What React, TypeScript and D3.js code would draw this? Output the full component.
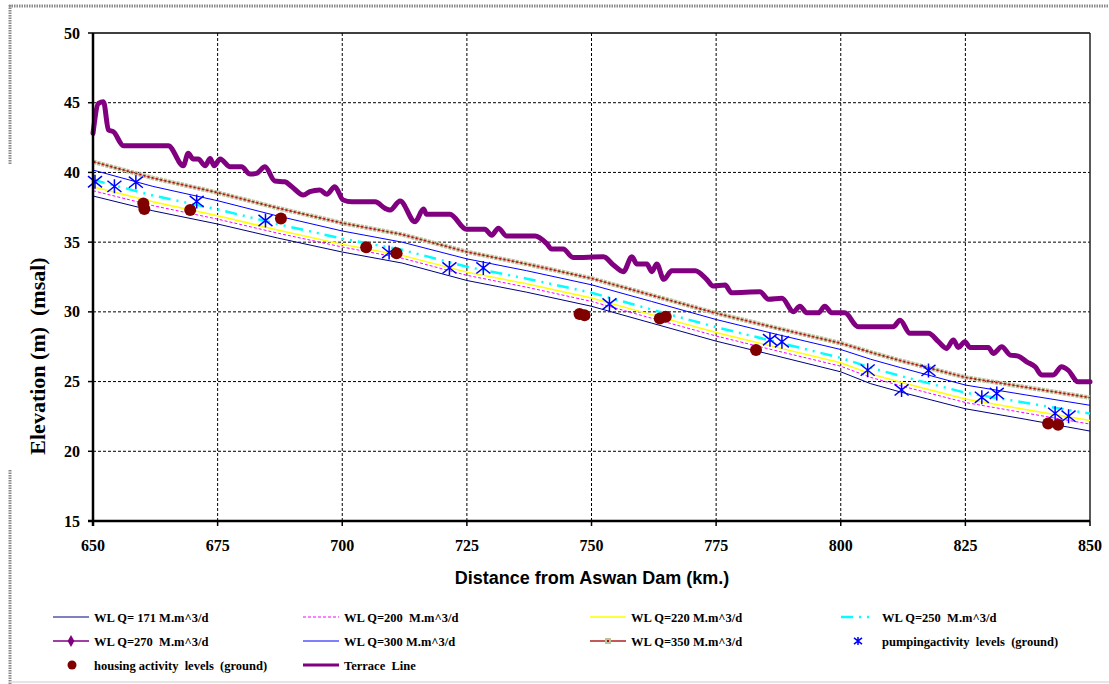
import React from "react";
import * as d3 from "d3";

// distances (km) where the water-level profiles were read
const km = [650, 662, 675, 687, 700, 712, 725, 737, 750, 762, 775, 787, 800, 806, 812, 825, 837, 850];

const wl171 = [38.31, 37.25, 36.3, 35.3, 34.29, 33.5, 32.25, 31.41, 30.4, 29.2, 27.9, 26.85, 25.7, 24.85, 24.25, 23.05, 22.3, 21.45];
const wl200 = [38.69, 37.62, 36.65, 35.65, 34.65, 33.85, 32.62, 31.77, 30.75, 29.55, 28.27, 27.22, 26.1, 25.3, 24.7, 23.5, 22.75, 21.95];
const wl220 = [38.97, 37.9, 36.9, 35.87, 34.84, 34.05, 32.85, 32.01, 31.0, 29.8, 28.52, 27.47, 26.35, 25.55, 24.95, 23.75, 23.0, 22.2];
const wl250 = [39.47, 38.35, 37.35, 36.3, 35.25, 34.45, 33.23, 32.38, 31.37, 30.17, 28.9, 27.85, 26.7, 26.0, 25.4, 24.2, 23.48, 22.7];
const wl300 = [40.17, 39.0, 37.97, 36.88, 35.8, 35.0, 33.8, 32.95, 31.94, 30.75, 29.45, 28.4, 27.3, 26.6, 26.0, 24.75, 24.05, 23.3];
const wl350 = [40.77, 39.6, 38.55, 37.45, 36.37, 35.55, 34.3, 33.43, 32.4, 31.2, 29.9, 28.85, 27.75, 27.1, 26.5, 25.3, 24.6, 23.85];

// [km, elevation]
const pumping = [
  [650.4, 39.33], [654.3, 39.0], [658.6, 39.3], [670.8, 37.92], [684.6, 36.55], [709.4, 34.25],
  [721.5, 33.15], [728.3, 33.15], [753.6, 30.56], [785.8, 28.0], [788.2, 27.85], [805.4, 25.82],
  [812.2, 24.4], [817.6, 25.8], [828.3, 23.87], [831.3, 24.15], [843, 22.72], [845.7, 22.52],
];

const housing = [
  [660.1, 37.78], [660.3, 37.37], [669.5, 37.3], [687.7, 36.7], [704.8, 34.63], [710.9, 34.2],
  [747.6, 29.84], [748.6, 29.75], [763.7, 29.53], [764.9, 29.65], [783.0, 27.26], [841.6, 22.0], [843.6, 21.9],
];

const terrace = [
  [650, 42.8], [651.1, 44.96], [652.1, 45.07], [653.1, 43.04], [654.1, 42.92], [656.1, 41.92], [665.1, 41.92],
  [668.1, 40.48], [669.1, 41.37], [670.1, 40.96], [671.1, 40.96], [672.5, 40.48], [673.5, 41.0], [674.3, 40.48],
  [675.5, 40.96], [677.5, 40.4], [679.8, 40.4], [681.5, 39.88], [682.8, 39.93], [684.5, 40.4], [686.5, 39.38],
  [688.5, 39.33], [689.9, 38.97], [692.2, 38.38], [693.5, 38.62], [695.5, 38.74], [696.9, 38.43], [698.5, 38.97],
  [700.2, 38.02], [701.9, 37.9], [706.6, 37.9], [708.6, 37.42], [709.6, 37.3], [711.6, 37.95], [714.6, 36.46],
  [716.3, 37.37], [716.9, 37.0], [721.6, 37.0], [724.9, 35.92], [728.6, 35.92], [730.0, 35.5], [731.3, 36.0],
  [733.0, 35.44], [738.7, 35.44], [741.0, 34.9], [742.0, 34.5], [744.3, 34.5], [746.3, 33.9], [752.4, 33.95],
  [754.4, 33.36], [756.4, 32.88], [758.1, 33.95], [759.1, 33.43], [761.1, 33.43], [762.1, 32.88], [763.1, 33.43],
  [764.5, 32.33], [766.1, 32.95], [770.8, 32.95], [773.1, 32.33], [774.4, 31.85], [776.8, 31.92], [778.1, 31.37],
  [783.8, 31.44], [785.5, 30.9], [788.2, 30.97], [790.5, 30.0], [791.8, 30.4], [793.2, 29.93], [795.5, 29.93],
  [796.8, 30.4], [798.2, 29.93], [800.8, 29.93], [803.5, 28.93], [810.5, 28.93], [811.9, 29.4], [813.9, 28.46],
  [817.6, 28.46], [819.6, 27.86], [821.2, 27.38], [822.6, 27.98], [823.6, 27.45], [824.9, 27.86], [825.9, 27.45],
  [829.6, 27.45], [830.6, 27.02], [832.3, 27.5], [834.0, 26.9], [835.6, 26.83], [837.3, 26.42], [839.0, 26.06],
  [840.3, 25.47], [842.6, 25.47], [844.3, 26.06], [845.6, 25.82], [847.6, 24.98], [850, 24.98],
];

const xTicks = [650, 675, 700, 725, 750, 775, 800, 825, 850];
const yTicks = [15, 20, 25, 30, 35, 40, 45, 50];

const W = 1109, H = 684;
const left = 93, right = 1090, top = 33, bottom = 521;

const serif = "'Liberation Serif', 'Times New Roman', serif";
const sans = "'Liberation Sans', Arial, sans-serif";

function Star({ x, y, s = 7 }) {
  return (
    <path
      d={`M${x - s},${y - s * 0.8}L${x + s},${y + s * 0.8}M${x - s},${y + s * 0.8}L${x + s},${y - s * 0.8}M${x},${y - s}L${x},${y + s}`}
      stroke="#0000ff"
      strokeWidth={1.5}
      fill="none"
    />
  );
}

export default function App() {
  const x = d3.scaleLinear().domain([650, 850]).range([left, right]);
  const y = d3.scaleLinear().domain([15, 50]).range([bottom, top]);

  const wlLine = d3.line<number>().x((d, i) => x(km[i])).y((d) => y(d));
  const tLine = d3.line<number[]>().x((d) => x(d[0])).y((d) => y(d[1])).curve(d3.curveMonotoneX);

  // legend layout
  const cols = [53, 303, 590, 841];
  const rows = [617, 641, 665];
  const sample = 36;
  const legendText = (c, r, t) => (
    <text x={cols[c] + sample + 5} y={rows[r] + 4.5} fontFamily={serif} fontWeight="bold" fontSize={12.5} style={{ whiteSpace: "pre" }}>
      {t}
    </text>
  );

  return (
    <svg width={W} height={H} style={{ position: "absolute", left: 0, top: 0, background: "#fff" }}>
      {/* outer frame */}
      <line x1={9} x2={W} y1={6} y2={6} stroke="#8a8a8a" strokeWidth={3} strokeDasharray="1.5 1" />
      <line x1={10} x2={10} y1={5} y2={165} stroke="#8a8a8a" strokeWidth={3} strokeDasharray="1.5 1" />
      <line x1={10} x2={10} y1={470} y2={H} stroke="#8a8a8a" strokeWidth={3} strokeDasharray="1.5 1" />
      <line x1={10} x2={W} y1={682} y2={682} stroke="#dddddd" strokeWidth={1.5} />

      {/* grid */}
      {yTicks.slice(1, -1).map((t) => (
        <line key={"gy" + t} x1={left} x2={right} y1={y(t)} y2={y(t)} stroke="#000" strokeWidth={1} strokeDasharray="3 2" />
      ))}
      {xTicks.slice(1, -1).map((t) => (
        <line key={"gx" + t} x1={x(t)} x2={x(t)} y1={top} y2={bottom} stroke="#000" strokeWidth={1} strokeDasharray="3 2" />
      ))}
      <line x1={left} x2={right} y1={top} y2={top} stroke="#000" strokeWidth={1.5} />
      <line x1={right} x2={right} y1={top} y2={bottom} stroke="#222" strokeWidth={1.5} />

      {/* water levels */}
      <path d={wlLine(wl171)} fill="none" stroke="#000080" strokeWidth={1} />
      <path d={wlLine(wl200)} fill="none" stroke="#ff00ff" strokeWidth={1} strokeDasharray="3 2" />
      <path d={wlLine(wl220)} fill="none" stroke="#ffff00" strokeWidth={1.5} />
      <path d={wlLine(wl250)} fill="none" stroke="#00ffff" strokeWidth={2.5} strokeDasharray="12 6 2 6 2 6" />
      <path d={wlLine(wl300)} fill="none" stroke="#0000ff" strokeWidth={1} />
      <path d={wlLine(wl350)} fill="none" stroke="#b9c39c" strokeWidth={4.5} strokeDasharray="3.4 0.9" />
      <path d={wlLine(wl350)} fill="none" stroke="#cc2222" strokeWidth={0.6} />
      <path d={wlLine(wl350)} fill="none" stroke="#b01010" strokeWidth={1.7} strokeDasharray="1.7 2.6" strokeDashoffset={-0.8} />

      {/* terrace */}
      <path d={tLine(terrace)} fill="none" stroke="#800080" strokeWidth={5} strokeLinejoin="round" strokeLinecap="round" />

      {/* ground activity levels */}
      {pumping.map((p, i) => (
        <Star key={"p" + i} x={x(p[0])} y={y(p[1])} />
      ))}
      {housing.map((p, i) => (
        <circle key={"h" + i} cx={x(p[0])} cy={y(p[1])} r={6} fill="#800000" />
      ))}

      {/* axes */}
      <line x1={left} x2={left} y1={top} y2={bottom + 5} stroke="#000" strokeWidth={2.5} />
      <line x1={left - 5} x2={right} y1={bottom} y2={bottom} stroke="#000" strokeWidth={2.5} />
      {yTicks.map((t) => (
        <g key={"ty" + t}>
          <line x1={left - 5} x2={left} y1={y(t)} y2={y(t)} stroke="#000" strokeWidth={1.5} />
          <text x={80} y={y(t) + 5.5} textAnchor="end" fontFamily={serif} fontWeight="bold" fontSize={16}>
            {t}
          </text>
        </g>
      ))}
      {xTicks.map((t) => (
        <g key={"tx" + t}>
          <line x1={x(t)} x2={x(t)} y1={bottom} y2={bottom + 5} stroke="#000" strokeWidth={1.5} />
          <text x={x(t)} y={551} textAnchor="middle" fontFamily={serif} fontWeight="bold" fontSize={16}>
            {t}
          </text>
        </g>
      ))}
      <text x={592} y={584} textAnchor="middle" fontFamily={sans} fontWeight="bold" fontSize={18}>
        Distance from Aswan Dam (km.)
      </text>
      <text transform="translate(45,356) rotate(-90)" textAnchor="middle" fontFamily={serif} fontWeight="bold" fontSize={22} style={{ whiteSpace: "pre" }}>
        {"Elevation (m)  (msal)"}
      </text>

      {/* legend */}
      <line x1={cols[0]} x2={cols[0] + sample} y1={rows[0]} y2={rows[0]} stroke="#000080" />
      {legendText(0, 0, "WL Q= 171 M.m^3/d")}
      <line x1={cols[1]} x2={cols[1] + sample} y1={rows[0]} y2={rows[0]} stroke="#ff00ff" strokeDasharray="3 2" />
      {legendText(1, 0, "WL Q=200  M.m^3/d")}
      <line x1={cols[2]} x2={cols[2] + sample} y1={rows[0]} y2={rows[0]} stroke="#ffff00" strokeWidth={1.5} />
      {legendText(2, 0, "WL Q=220 M.m^3/d")}
      <line x1={cols[3]} x2={cols[3] + 32} y1={rows[0]} y2={rows[0]} stroke="#00ffff" strokeWidth={2.5} strokeDasharray="12 6 2 6 2 6" />
      {legendText(3, 0, "WL Q=250  M.m^3/d")}

      <line x1={cols[0]} x2={cols[0] + sample} y1={rows[1]} y2={rows[1]} stroke="#800080" strokeWidth={1.5} />
      <path d={d3.symbol(d3.symbolDiamond, 40)()} transform={`translate(${cols[0] + sample / 2},${rows[1]})`} fill="#800080" />
      {legendText(0, 1, "WL Q=270  M.m^3/d")}
      <line x1={cols[1]} x2={cols[1] + sample} y1={rows[1]} y2={rows[1]} stroke="#0000ff" />
      {legendText(1, 1, "WL Q=300 M.m^3/d")}
      <line x1={cols[2]} x2={cols[2] + sample} y1={rows[1]} y2={rows[1]} stroke="#b22222" strokeWidth={1.5} />
      <rect x={cols[2] + sample / 2 - 3} y={rows[1] - 3} width={6} height={6} fill="#b9c39c" />
      <rect x={cols[2] + sample / 2 - 1} y={rows[1] - 1} width={2} height={2} fill="#b01010" />
      {legendText(2, 1, "WL Q=350 M.m^3/d")}
      <Star x={cols[3] + 17} y={rows[1]} s={4} />
      {legendText(3, 1, "pumpingactivity  levels  (ground)")}

      <circle cx={cols[0] + 19} cy={rows[2]} r={4.5} fill="#800000" />
      {legendText(0, 2, "housing activity  levels  (ground)")}
      <line x1={cols[1]} x2={cols[1] + sample} y1={rows[2]} y2={rows[2]} stroke="#800080" strokeWidth={3} />
      {legendText(1, 2, "Terrace  Line")}
    </svg>
  );
}
